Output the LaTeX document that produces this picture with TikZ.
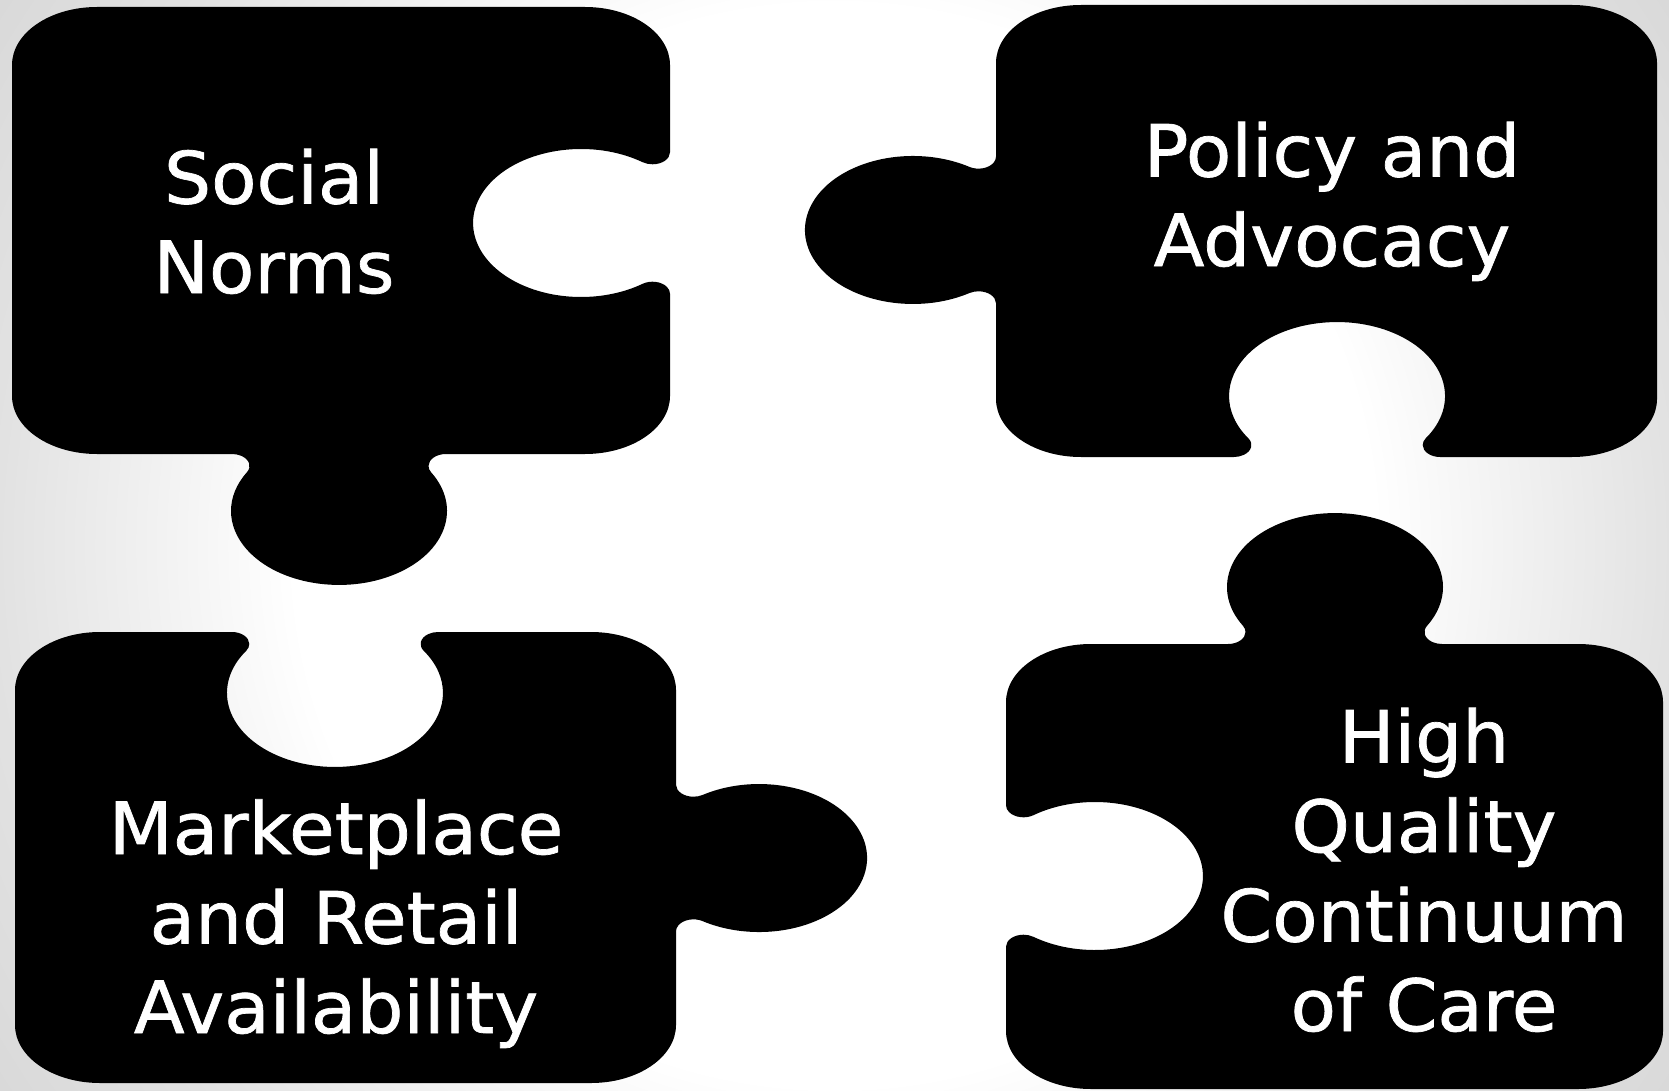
\documentclass[tikz,border=0pt]{standalone}
\usepackage{fontspec}
\newfontfamily\labelfont[FakeStretch=1.03,FakeBold=1]{DejaVu Sans}
\definecolor{bgedge}{gray}{0.885}
\definecolor{bgcorner}{gray}{0.85}
\pgfdeclareradialshading{bgrad}{\pgfpoint{0bp}{0bp}}{color(0bp)=(white); color(13.5bp)=(white); color(21bp)=(bgedge); color(25bp)=(bgcorner); color(50bp)=(bgcorner)}
\tikzset{
  piece/.style={fill=black, draw=none},
  piecetext/.style={text=white, font=\labelfont\fontsize{72}{89.5}\selectfont, align=center, anchor=base, inner sep=0pt}
}
\begin{document}
\begin{tikzpicture}[x=1pt, y=-1pt]
\useasboundingbox (0,0) rectangle (1669,1091);
\begin{scope}
  \clip (0,0) rectangle (1669,1091);
  \shade[shading=bgrad] (-165.5,-454.5) rectangle (1834.5,1545.5);
\end{scope}

% piece 1: Social Norms (socket right, knob bottom)
\path[piece] (12,65) arc[start angle=180, end angle=270, x radius=85, y radius=58]
  -- (585,7) arc[start angle=270, end angle=360, x radius=85, y radius=58]
  -- (670,152.3) arc[start angle=0, end angle=124.7, x radius=17.5, y radius=12]
  arc[start angle=-55.3, end angle=-304.7, x radius=108, y radius=74]
  arc[start angle=235.3, end angle=360, x radius=17.5, y radius=12]
  -- (670,396) arc[start angle=0, end angle=90, x radius=85, y radius=58]
  -- (446,454) arc[start angle=270, end angle=148.5, x radius=17.5, y radius=12]
  arc[start angle=-31.5, end angle=211.5, x radius=108, y radius=74]
  arc[start angle=31.5, end angle=-90, x radius=17.5, y radius=12]
  -- (97,454) arc[start angle=90, end angle=180, x radius=85, y radius=58]
  -- cycle;

% piece 2: Policy and Advocacy (knob left, socket bottom)
\path[piece] (996,63) arc[start angle=180, end angle=270, x radius=85, y radius=58]
  -- (1572,5) arc[start angle=270, end angle=360, x radius=85, y radius=58]
  -- (1657,399) arc[start angle=0, end angle=90, x radius=85, y radius=58]
  -- (1440.2,457) arc[start angle=90, end angle=214.7, x radius=17.5, y radius=12]
  arc[start angle=34.7, end angle=-214.7, x radius=108, y radius=74]
  arc[start angle=-34.7, end angle=90, x radius=17.5, y radius=12]
  -- (1081,457) arc[start angle=90, end angle=180, x radius=85, y radius=58]
  -- (996,303.3) arc[start angle=360, end angle=238.5, x radius=17.5, y radius=12]
  arc[start angle=58.5, end angle=301.5, x radius=108, y radius=74]
  arc[start angle=121.5, end angle=0, x radius=17.5, y radius=12]
  -- cycle;

% piece 3: Marketplace (socket top, knob right)
\path[piece] (15,690) arc[start angle=180, end angle=270, x radius=85, y radius=58]
  -- (231.8,632) arc[start angle=-90, end angle=34.7, x radius=17.5, y radius=12]
  arc[start angle=214.7, end angle=-34.7, x radius=108, y radius=74]
  arc[start angle=145.3, end angle=270, x radius=17.5, y radius=12]
  -- (591,632) arc[start angle=270, end angle=360, x radius=85, y radius=58]
  -- (676,784.7) arc[start angle=180, end angle=58.5, x radius=17.5, y radius=12]
  arc[start angle=238.5, end angle=481.5, x radius=108, y radius=74]
  arc[start angle=301.5, end angle=180, x radius=17.5, y radius=12]
  -- (676,1025) arc[start angle=0, end angle=90, x radius=85, y radius=58]
  -- (100,1083) arc[start angle=90, end angle=180, x radius=85, y radius=58]
  -- cycle;

% piece 4: High Quality (knob top, socket left)
\path[piece] (1006,702) arc[start angle=180, end angle=270, x radius=85, y radius=58]
  -- (1228,644) arc[start angle=90, end angle=-31.5, x radius=17.5, y radius=12]
  arc[start angle=148.5, end angle=391.5, x radius=108, y radius=74]
  arc[start angle=211.5, end angle=90, x radius=17.5, y radius=12]
  -- (1578,644) arc[start angle=270, end angle=360, x radius=85, y radius=58]
  -- (1663,1031) arc[start angle=0, end angle=90, x radius=85, y radius=58]
  -- (1091,1089) arc[start angle=90, end angle=180, x radius=85, y radius=58]
  -- (1006,946.7) arc[start angle=180, end angle=304.7, x radius=17.5, y radius=12]
  arc[start angle=124.7, end angle=-124.7, x radius=108, y radius=74]
  arc[start angle=55.3, end angle=180, x radius=17.5, y radius=12]
  -- cycle;

% anchor=base sits on the last line's baseline
\node[piecetext] (social) at (274,293) {Social\\Norms};
\node[piecetext] (policy) at (1332,266) {Policy and\\Advocacy};
\node[piecetext] (market) at (336,1033) {Marketplace\\and Retail\\Availability};
\node[piecetext] (care) at (1424,1031) {High\\Quality\\Continuum\\of Care};
\end{tikzpicture}
\end{document}
